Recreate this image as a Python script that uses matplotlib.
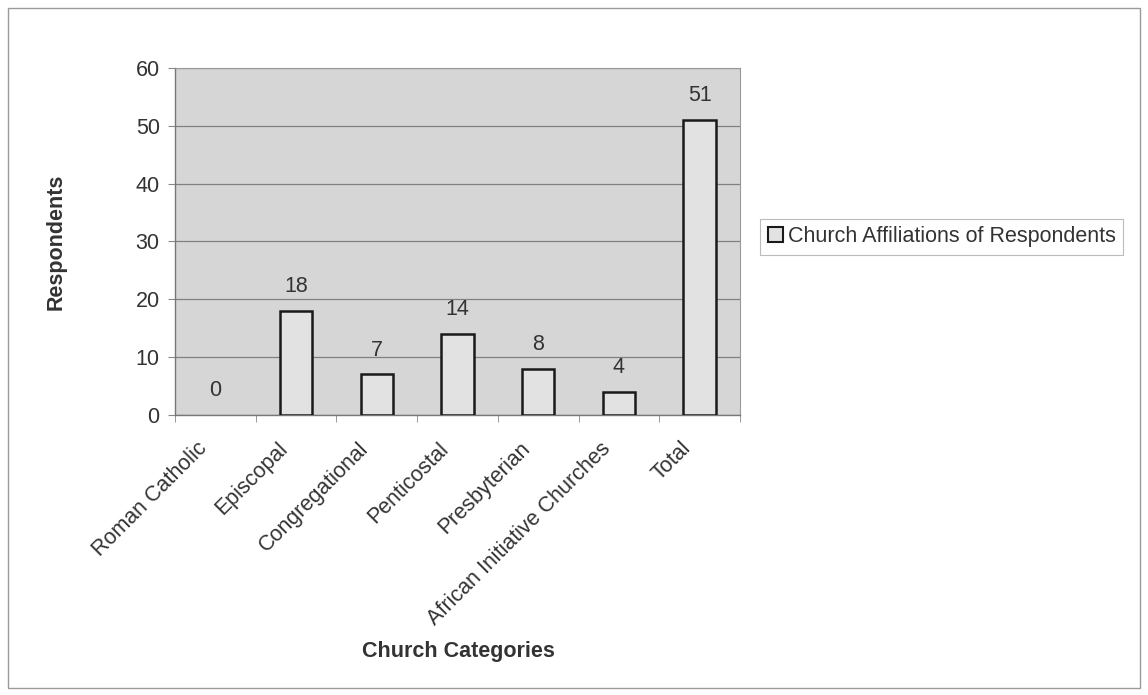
import matplotlib
matplotlib.use("Agg")
import matplotlib.pyplot as plt
import matplotlib.transforms as mtransforms
from matplotlib.patches import Rectangle, Patch
import numpy as np

categories = ["Roman Catholic", "Episcopal", "Congregational", "Penticostal",
              "Presbyterian", "African Initiative Churches", "Total"]
respondents = [0, 18, 7, 14, 8, 4, 51]
series_name = "Church Affiliations of Respondents"
y_ticks = [0, 10, 20, 30, 40, 50, 60]

plt.rcParams["font.family"] = ["Liberation Sans", "DejaVu Sans"]
text_color = "#333333"
fs = 15.5

fig = plt.figure(figsize=(11.48, 6.95), dpi=100)
fig.patches.append(Rectangle((0.007, 0.01), 0.986, 0.978, transform=fig.transFigure,
                             fill=False, edgecolor="#9a9a9a", linewidth=1.0))

ax = fig.add_axes([0.1524, 0.4029, 0.4922, 0.4993])
ax.set_facecolor("#d6d6d6")
x = np.arange(len(categories))
edge_widths = [1.8 if v > 0 else 0 for v in respondents]
bars = ax.bar(x, respondents, width=0.4, color="#e2e2e2", edgecolor="#1a1a1a",
              linewidth=edge_widths, zorder=3)

for xi, v in zip(x, respondents):
    ax.annotate(str(v), (xi, v), xytext=(0, 10), textcoords="offset points",
                ha="center", va="bottom", fontsize=fs, color=text_color)

ax.set_xlim(-0.5, len(categories) - 0.5)
ax.set_ylim(0, 60)
ax.set_yticks(y_ticks)
ax.set_yticklabels([str(t) for t in y_ticks], fontsize=fs, color=text_color)
ax.yaxis.grid(True, color="#808080", linewidth=0.9, zorder=1)
ax.set_axisbelow(True)

ax.set_xticks(x)
ax.set_xticklabels(categories, rotation=45, ha="right", rotation_mode="anchor",
                   fontsize=fs, color=text_color)
ax.tick_params(axis="x", length=0, pad=8)
# nudge the slanted category names down and to the left
shift = mtransforms.ScaledTranslation(-19 / 100, -12 / 100, fig.dpi_scale_trans)
for lbl in ax.get_xticklabels():
    lbl.set_transform(lbl.get_transform() + shift)
ax.set_xticks(np.arange(len(categories) + 1) - 0.5, minor=True)
ax.tick_params(axis="x", which="minor", length=5, color="#888888")
ax.tick_params(axis="y", length=5, color="#888888", pad=6)

for side in ["top", "right"]:
    ax.spines[side].set_color("#999999")
    ax.spines[side].set_linewidth(0.8)
for side in ["left", "bottom"]:
    ax.spines[side].set_color("#777777")
    ax.spines[side].set_linewidth(1.0)

ax.set_ylabel("Respondents", fontsize=fs, fontweight="bold", color=text_color)
ax.yaxis.set_label_coords(-0.191, 0.5)
fig.text(0.399, 0.062, "Church Categories", fontsize=fs, fontweight="bold",
         color=text_color, ha="center", va="center")

handle = Patch(facecolor="#e2e2e2", edgecolor="#1a1a1a", linewidth=1.5)
leg = fig.legend([handle], [series_name], loc="center left",
                 bbox_to_anchor=(0.662, 0.659), fontsize=fs, frameon=True,
                 fancybox=False, handlelength=0.7, handleheight=0.7,
                 handletextpad=0.25, borderpad=0.35, borderaxespad=0,
                 labelcolor=text_color)
leg.get_frame().set_edgecolor("#aaaaaa")
leg.get_frame().set_linewidth(0.8)

fig.savefig("out.png", dpi=100, facecolor="white")
